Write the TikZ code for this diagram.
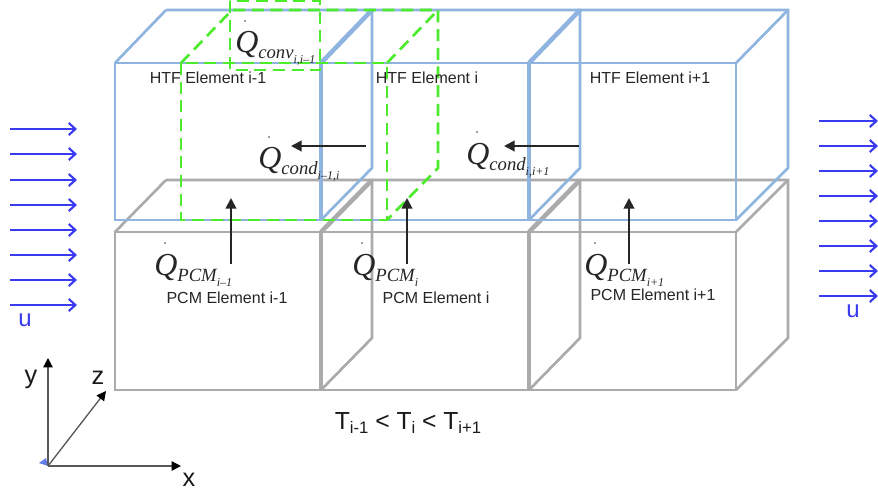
\documentclass[tikz,border=0pt]{standalone}
\usepackage{fontspec}
\setmainfont{Liberation Sans}
\usetikzlibrary{arrows.meta}
\definecolor{htf}{HTML}{8FB4E0}
\definecolor{pcm}{HTML}{ABABAB}
\definecolor{grn}{HTML}{4CEB2C}
\definecolor{flow}{HTML}{3A3AF0}
\tikzset{
 x=0.75pt,y=-0.75pt,
 htfline/.style={draw=htf,line width=2pt,line join=miter},
 htfbold/.style={draw=htf,line width=3.4pt},
 pcmline/.style={draw=pcm,line width=2pt},
 pcmbold/.style={draw=pcm,line width=3.4pt},
 grnline/.style={draw=grn,line width=2pt,dash pattern=on 9pt off 5pt},
 flowarrow/.style={draw=flow,line width=1.6pt,-{Straight Barb[length=5pt,width=9pt,line width=1.6pt]}},
 heat/.style={draw=black!85,line width=1.5pt,-{Triangle[length=8pt,width=8pt]}},
 axis/.style={draw=black!65,line width=1pt,-{Triangle[length=7pt,width=7pt,color=black]}},
 small/.style={font=\fontsize{12pt}{14pt}\selectfont,text=black!85,inner sep=0pt},
 qtext/.style={inner sep=0pt,anchor=base west,text=black!85},
 qdot/.style={fill=black!75,inner sep=0pt,minimum size=1.4pt,circle},
 flowlabel/.style={font=\fontsize{18pt}{18pt}\selectfont,text=flow,inner sep=0pt},
 axislabel/.style={font=\fontsize{19pt}{19pt}\selectfont,inner sep=0pt,text=black!90},
}
\newfontfamily\qfont[Ligatures=TeX]{Liberation Serif}
\newcommand{\qsym}[2]{\qfont\itshape\fontsize{24pt}{24pt}\selectfont Q\raisebox{-4.5pt}{\fontsize{14pt}{14pt}\selectfont #1\raisebox{-4pt}{\fontsize{9pt}{9pt}\selectfont #2}}}
\newcommand{\tsub}[1]{\raisebox{-3.5pt}{\fontsize{12.5pt}{12.5pt}\selectfont #1}}
\begin{document}
\begin{tikzpicture}
\useasboundingbox (0,0) rectangle (878,494);
\fill[white] (0,0) rectangle (878,494);
% PCM boxes
\foreach \fa/\fb/\ba/\bb in {115/321/166/372,321/529/372/580,529/736/580/788}{
 \draw[pcmline] (\ba,180) -- (\bb,180) -- (\bb,338) -- (\fb,390);
 \draw[pcmline] (\fa,232) -- (\ba,180);
 \draw[pcmline] (\fb,232) -- (\bb,180);
 \draw[pcmline] (\fa,232) rectangle (\fb,390);
}
\draw[pcmbold] (321,232) -- (321,390);
\draw[pcmbold] (529,232) -- (529,390);
\draw[pcmbold] (321,232) -- (372,180);
\draw[pcmbold] (529,232) -- (580,180);
% HTF boxes
\foreach \fa/\fb/\ba/\bb in {115/321/166/372,321/529/372/580,529/736/580/788}{
 \draw[htfline] (\ba,10) -- (\bb,10) -- (\bb,168) -- (\fb,220);
 \draw[htfline] (\fa,63) -- (\ba,10);
 \draw[htfline] (\fb,63) -- (\bb,10);
 \draw[htfline] (\fa,63) rectangle (\fb,220);
}
\draw[htfbold] (321,63) -- (321,220);
\draw[htfbold] (529,63) -- (529,220);
\draw[htfbold] (321,63) -- (372,10);
\draw[htfbold] (529,63) -- (580,10);
% green control volume
\draw[grnline] (181,63) rectangle (387,220);
\draw[grnline] (181,63) -- (232,10) -- (438,10) -- (438,168) -- (387,220);
\draw[grnline] (387,63) -- (438,10);
\draw[grnline] (230,1) rectangle (320,70);
% flow arrows
\foreach \y in {129,154,180,205,230,255,280,305}{
 \coordinate (la\y) at (10,\y); \coordinate (lb\y) at (77,\y);
 \draw[flowarrow] (la\y) -- (lb\y);
}
\foreach \y in {121,146,171,196,221,246,271,296}{
 \coordinate (ra\y) at (819,\y); \coordinate (rb\y) at (878,\y);
 \draw[flowarrow] (ra\y) -- (rb\y);
}
\node[flowlabel] (ul) at (25,320) {u};
\node[flowlabel] (ur) at (853,311) {u};
% labels
\node[small] (h1) at (208,78) {HTF Element i-1};
\node[small] (h2) at (427,78) {HTF Element i};
\node[small] (h3) at (650,78) {HTF Element i+1};
\node[small] (p1) at (227,298) {PCM Element i-1};
\node[small] (p2) at (436,298) {PCM Element i};
\node[small] (p3) at (653,295) {PCM Element i+1};
% heat arrows
\coordinate (a1) at (366,146); \coordinate (a2) at (291,146);
\draw[heat] (a1) -- (a2);
\coordinate (b1) at (579,146); \coordinate (b2) at (504,146);
\draw[heat] (b1) -- (b2);
\coordinate (c1) at (231,264); \coordinate (c2) at (231,198);
\draw[heat] (c1) -- (c2);
\coordinate (d1) at (407,264); \coordinate (d2) at (407,198);
\draw[heat] (d1) -- (d2);
\coordinate (e1) at (629,264); \coordinate (e2) at (629,198);
\draw[heat] (e1) -- (e2);
% Q labels
\node[qtext] (q1) at (235,52) {\qsym{conv}{i,i--1}};
\node[qtext] (q2) at (258,168) {\qsym{cond}{i--1,i}};
\node[qtext] (q3) at (466,164) {\qsym{cond}{i,i+1}};
\node[qtext] (q4) at (154,275) {\qsym{PCM}{i--1}};
\node[qtext] (q5) at (352,275) {\qsym{PCM}{i}};
\node[qtext] (q6) at (584,275) {\qsym{PCM}{i+1}};
\node[qdot] (d1n) at (245,21) {};
\node[qdot] (d2n) at (269,137) {};
\node[qdot] (d3n) at (477,132) {};
\node[qdot] (d4n) at (165,243) {};
\node[qdot] (d5n) at (362,243) {};
\node[qdot] (d6n) at (595,243) {};
% temperature
\node[inner sep=0pt,anchor=base,font=\fontsize{18.5pt}{18.5pt}\selectfont,text=black!90] (t) at (408,429) {T\tsub{i-1} < T\tsub{i} < T\tsub{i+1}};
% axes
\coordinate (o) at (48,466);
\coordinate (ax) at (181,466);
\coordinate (ay) at (48,358);
\coordinate (az) at (106,391);
\fill[htf!70!blue] (39,463) -- (46,458) -- (48,466) -- cycle;
\draw[axis] (o) -- (ax);
\draw[axis] (o) -- (ay);
\draw[axis] (o) -- (az);
\node[axislabel] (lx) at (189,480) {x};
\node[axislabel] (ly) at (31,379) {y};
\node[axislabel] (lz) at (98,378) {z};
\end{tikzpicture}
\end{document}
